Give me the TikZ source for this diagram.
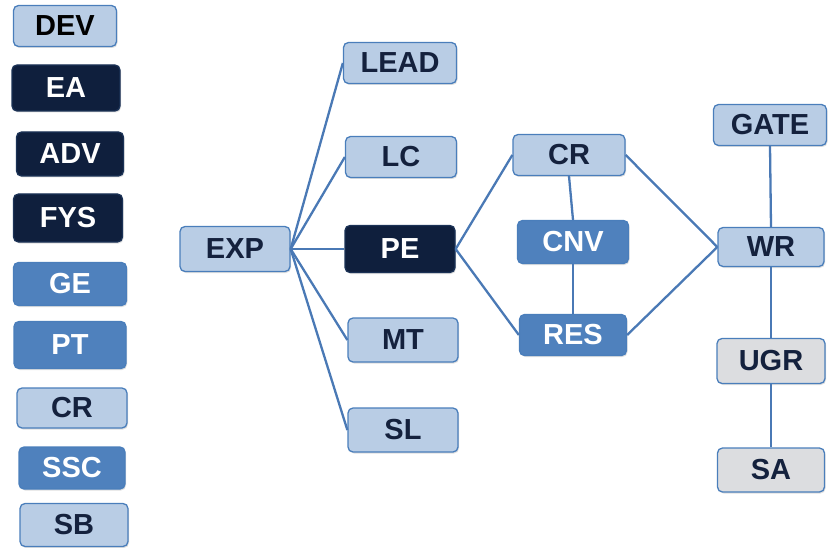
\documentclass[tikz,border=0pt]{standalone}
\usepackage{fontspec}
\setmainfont{Liberation Sans}
\usetikzlibrary{shadows}
\definecolor{lightfill}{HTML}{B9CDE5}
\definecolor{midfill}{HTML}{4F81BD}
\definecolor{darkfill}{HTML}{0F1F3D}
\definecolor{greyfill}{HTML}{DCDDE0}
\definecolor{rim}{HTML}{4A7EBB}
\definecolor{ink}{HTML}{14213D}
\definecolor{wire}{HTML}{4A79B5}
\tikzset{
  box/.style={draw=rim, line width=1.3pt, rounded corners=5pt,
    minimum width=108pt, minimum height=43pt, inner sep=0pt,
    font=\fontsize{29}{32}\selectfont\bfseries,
    drop shadow={shadow xshift=1pt, shadow yshift=-1.5pt, opacity=0.25}},
  light/.style={box, fill=lightfill, text=ink},
  mid/.style={box, fill=midfill, text=white},
  dark/.style={box, fill=darkfill, text=white, draw=darkfill!80!rim},
  grey/.style={box, fill=greyfill, text=ink},
  link/.style={draw=wire, line width=2.3pt}
}
\begin{document}
\begin{tikzpicture}[x=1pt,y=-1pt]
\useasboundingbox (0,0) rectangle (835,548);
% legend column
\node[light, minimum width=103pt, minimum height=41pt, text=black] (dev) at (65,26) {DEV};
\node[dark, minimum height=46pt] (ea) at (66,88) {EA};
\node[dark, minimum width=107pt, minimum height=44pt] (adv) at (70,154) {ADV};
\node[dark, minimum width=109pt, minimum height=48pt] (fys) at (68,218) {FYS};
\node[mid, minimum width=113pt, minimum height=43pt] (ge) at (70,284) {GE};
\node[mid, minimum width=112pt, minimum height=47pt] (pt) at (70,345) {PT};
\node[light, minimum width=110pt, minimum height=40pt] (crl) at (72,408) {CR};
\node[mid, minimum width=106pt, minimum height=42pt] (ssc) at (72,468) {SSC};
\node[light, minimum width=108pt, minimum height=43pt] (sb) at (74,525) {SB};
% main graph
\node[light, minimum width=110pt, minimum height=45pt] (exp) at (235,249) {EXP};
\node[light, minimum width=113pt, minimum height=41pt] (lead) at (400,63) {LEAD};
\node[light, minimum width=111pt, minimum height=41pt] (lc) at (401,157) {LC};
\node[dark, minimum width=110pt, minimum height=47pt] (pe) at (400,249) {PE};
\node[light, minimum width=110pt, minimum height=44pt] (mt) at (403,340) {MT};
\node[light, minimum width=110pt, minimum height=44pt] (sl) at (403,430) {SL};
\node[light, minimum width=112pt, minimum height=41pt] (cr) at (569,155) {CR};
\node[mid, minimum width=111pt, minimum height=43pt] (cnv) at (573,242) {CNV};
\node[mid, minimum width=107pt, minimum height=41pt] (res) at (573,335) {RES};
\node[light, minimum width=113pt, minimum height=41pt] (gate) at (770,125) {GATE};
\node[light, minimum width=106pt, minimum height=39pt] (wr) at (771,247) {WR};
\node[grey, minimum width=108pt, minimum height=45pt] (ugr) at (771,361) {UGR};
\node[grey, minimum width=107pt, minimum height=44pt] (sa) at (771,470) {SA};
% connectors
\foreach \t in {lead,lc,pe,mt,sl} \draw[link] (exp.east) -- (\t.west);
\draw[link] (pe.east) -- (cr.west);
\draw[link] (pe.east) -- (res.west);
\draw[link] (cr.south) -- (cnv.north);
\draw[link] (cnv.south) -- (res.north);
\draw[link] (cr.east) -- (wr.west);
\draw[link] (res.east) -- (wr.west);
\draw[link] (gate.south) -- (wr.north);
\draw[link] (wr.south) -- (ugr.north);
\draw[link] (ugr.south) -- (sa.north);
\end{tikzpicture}
\end{document}
